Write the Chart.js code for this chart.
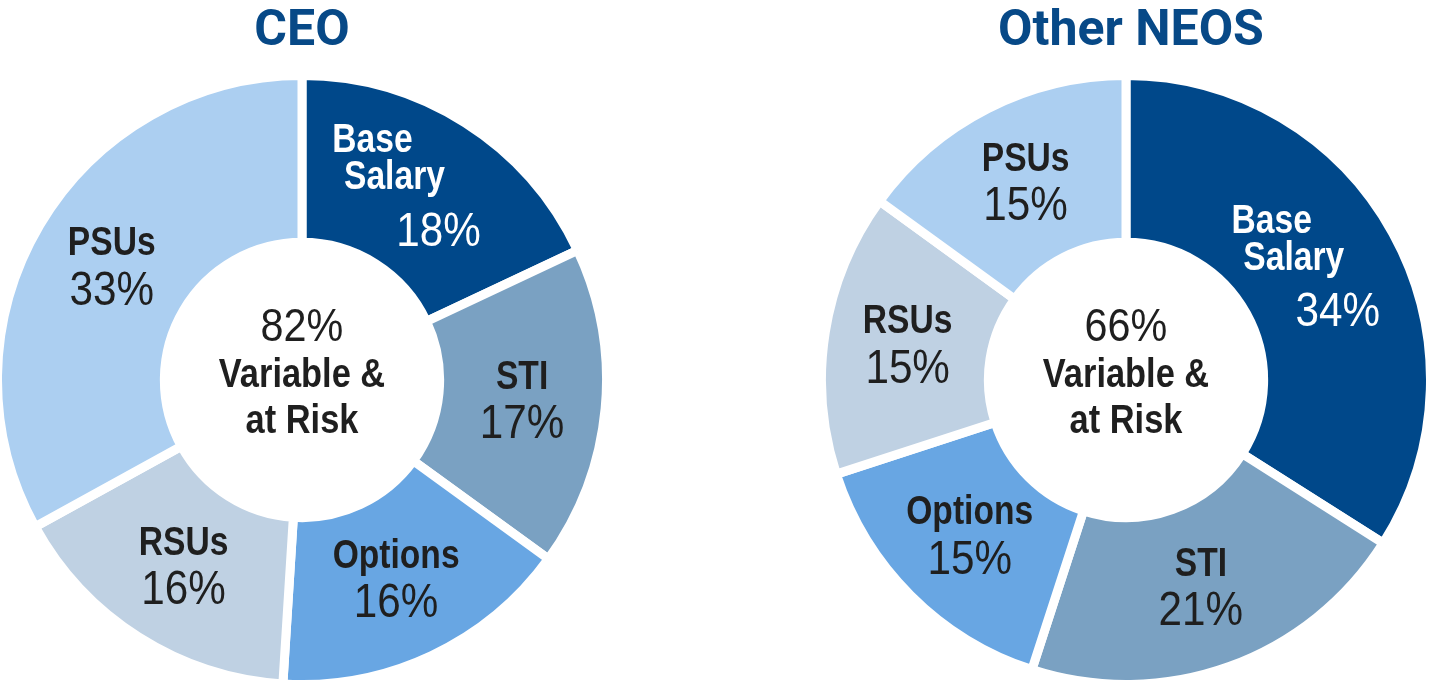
<!DOCTYPE html>
<html>
<head>
<meta charset="utf-8">
<script src="https://cdn.jsdelivr.net/npm/chart.js@4.4.0/dist/chart.umd.min.js"></script>
<style>
  html, body { margin: 0; padding: 0; background: #fff; overflow: hidden; }
  #page { position: relative; width: 1431px; height: 681px; overflow: hidden; }
  .title { position: absolute; top: -1px; width: 500px; text-align: center;
           font: bold 50px Roboto, 'Liberation Sans', sans-serif; color: #074987; }
  .box { position: absolute; top: 71px; width: 618px; height: 618px; }
</style>
</head>
<body>
<div id="page">
  <div class="title" style="left:52px">CEO</div>
  <div class="title" style="left:881px">Other NEOS</div>
  <div class="box" style="left:-7px"><canvas id="ceoChart" width="618" height="618"></canvas></div>
  <div class="box" style="left:817px"><canvas id="neoChart" width="618" height="618"></canvas></div>
</div>
<script>
// datos
const categories = ['Base Salary', 'STI', 'Options', 'RSUs', 'PSUs'];
const ceoValues = [18, 17, 16, 16, 33];
const neoValues = [34, 21, 15, 15, 15];
const variableAtRisk = [82, 66];

const sliceColors = ['#00488a', '#7aa1c2', '#68a6e3', '#bfd1e3', '#accff1'];
const textColors = ['#ffffff', '#1f1f1f', '#1f1f1f', '#1f1f1f', '#1f1f1f'];
const baseFont = "'Liberation Sans', Arial, sans-serif";

// texto estrecho (imita Helvetica Condensed)
const narrowText = (ctx, text, x, y, font, squeeze) => {
  ctx.save();
  ctx.font = font;
  ctx.translate(x, y);
  ctx.scale(squeeze, 1);
  ctx.fillText(text, 0, 0);
  ctx.restore();
};
const boldFont = 'bold 40px ' + baseFont;
const pctFont = '48px ' + baseFont;

// etiquetas dentro de cada sector y texto central
const sliceLabels = {
  id: 'sliceLabels',
  afterDatasetsDraw(chart, args, opts) {
    const ctx = chart.ctx;
    const meta = chart.getDatasetMeta(0);
    const values = chart.data.datasets[0].data;
    ctx.save();
    ctx.textAlign = 'center';
    ctx.textBaseline = 'middle';
    meta.data.forEach((arc, i) => {
      const p = arc.getCenterPoint();
      const words = chart.data.labels[i].split(' ');
      const pct = values[i] + '%';
      ctx.fillStyle = textColors[i];
      if (words.length > 1) {
        // etiqueta de dos lineas, escalonada
        narrowText(ctx, words[0], p.x - 48, p.y - 52, boldFont, 0.84);
        narrowText(ctx, words[1], p.x - 26, p.y - 15, boldFont, 0.84);
        narrowText(ctx, pct, p.x + 18, p.y + 39, pctFont, 0.88);
      } else {
        narrowText(ctx, words[0], p.x, p.y - 23, boldFont, 0.84);
        narrowText(ctx, pct, p.x, p.y + 24, pctFont, 0.88);
      }
    });
    // centro
    const c = meta.data[0];
    ctx.fillStyle = '#1f1f1f';
    narrowText(ctx, opts.center + '%', c.x, c.y - 52, '47px ' + baseFont, 0.88);
    narrowText(ctx, 'Variable &', c.x, c.y - 4, boldFont, 0.86);
    narrowText(ctx, 'at Risk', c.x, c.y + 42, boldFont, 0.86);
    ctx.restore();
  }
};

const makeChart = (id, values, center) => {
  return new Chart(document.getElementById(id).getContext('2d'), {
    type: 'doughnut',
    data: {
      labels: categories,
      datasets: [{
        data: values,
        backgroundColor: sliceColors,
        borderColor: '#ffffff',
        borderWidth: 9,
        hoverOffset: 0
      }]
    },
    options: {
      responsive: false,
      animation: false,
      cutout: '45.2%',
      layout: { padding: 0 },
      events: [],
      plugins: {
        legend: { display: false },
        tooltip: { enabled: false },
        sliceLabels: { center: center }
      }
    },
    plugins: [sliceLabels]
  });
};

makeChart('ceoChart', ceoValues, variableAtRisk[0]);
makeChart('neoChart', neoValues, variableAtRisk[1]);
</script>
</body>
</html>
